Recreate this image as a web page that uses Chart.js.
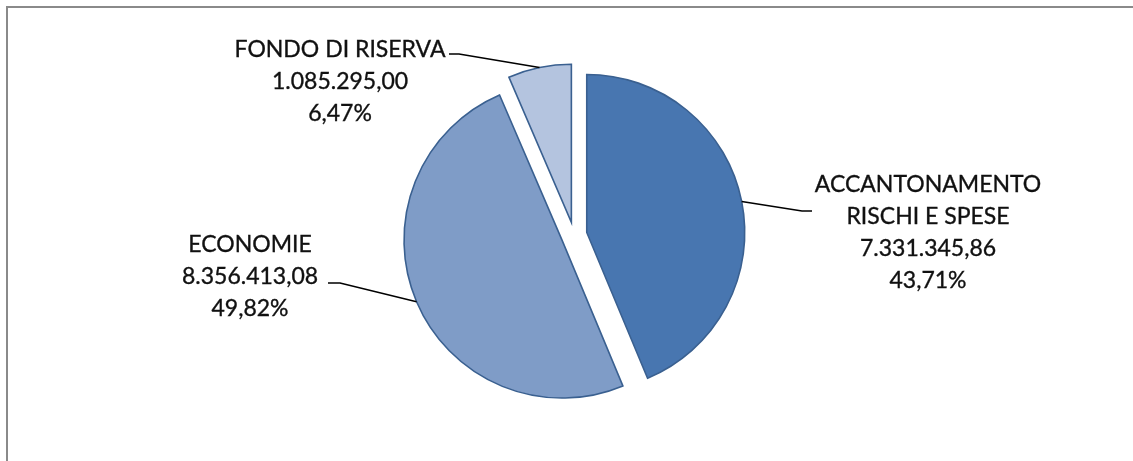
<!DOCTYPE html>
<html>
<head>
<meta charset="utf-8">
<script src="https://cdn.jsdelivr.net/npm/chart.js@4/dist/chart.umd.min.js"></script>
<style>
  html, body { margin:0; padding:0; background:#fff; overflow:hidden; }
  #frame { position:absolute; left:6px; top:6px; width:1127px; height:455px; border-left:2px solid #8a8a8a; border-top:2px solid #8a8a8a; box-sizing:border-box; }
  #wrap { position:absolute; left:0; top:0; width:1133px; height:461px; }
</style>
</head>
<body>
<div id="frame"></div>
<div id="wrap"><canvas id="pieChart"></canvas></div>
<script>
// data
const categories = [['ACCANTONAMENTO', 'RISCHI E SPESE'], ['ECONOMIE'], ['FONDO DI RISERVA']];
const values = [7331345.86, 8356413.08, 1085295.00];
const colors = ['#4876b0', '#7f9cc7', '#b4c4df'];

// label placement: text centre x, first baseline y, stub start/elbow
const labelPos = [
  { x: 928, y: 192, stub: [[812, 211], [802, 211]] },
  { x: 250, y: 252, stub: [[328, 283], [340, 283]] },
  { x: 340, y: 57,  stub: [[449, 54], [459, 54]] }
];
const EXPLODE = 13;
const FONT = '23px Lato';

function fmtIt(v) {
  const parts = v.toFixed(2).split('.');
  const int = parts[0].replace(/\B(?=(\d{3})+(?!\d))/g, '.');
  return int + ',' + parts[1];
}

const total = values.reduce((a, b) => a + b, 0);

const explodePlugin = {
  id: 'explode',
  beforeDatasetDraw(chart) {
    const ctx = chart.ctx;
    chart.getDatasetMeta(0).data.forEach(arc => {
      const mid = (arc.startAngle + arc.endAngle) / 2;
      ctx.save();
      ctx.translate(Math.cos(mid) * EXPLODE, Math.sin(mid) * EXPLODE);
      arc.draw(ctx);
      ctx.restore();
    });
    return false;
  },
  afterDatasetsDraw(chart) {
    const ctx = chart.ctx;
    chart.getDatasetMeta(0).data.forEach((arc, i) => {
      const mid = (arc.startAngle + arc.endAngle) / 2;
      const r = arc.outerRadius + EXPLODE;
      const ax = arc.x + Math.cos(mid) * r;
      const ay = arc.y + Math.sin(mid) * r;
      const p = labelPos[i];
      ctx.save();
      ctx.strokeStyle = '#000';
      ctx.lineWidth = 1.6;
      ctx.beginPath();
      ctx.moveTo(p.stub[0][0], p.stub[0][1]);
      ctx.lineTo(p.stub[1][0], p.stub[1][1]);
      ctx.lineTo(ax, ay);
      ctx.stroke();

      const lines = categories[i].concat([fmtIt(values[i]), (values[i] / total * 100).toFixed(2).replace('.', ',') + '%']);
      ctx.fillStyle = '#111';
      ctx.strokeStyle = '#111';
      ctx.lineWidth = 0.35;
      ctx.font = FONT;
      ctx.textAlign = 'center';
      ctx.textBaseline = 'alphabetic';
      lines.forEach((t, k) => {
        ctx.fillText(t, p.x, p.y + k * 32);
        ctx.strokeText(t, p.x, p.y + k * 32);
      });
      ctx.restore();
    });
  }
};

new Chart(document.getElementById('pieChart'), {
  type: 'pie',
  data: {
    labels: categories.map(c => c.join(' ')),
    datasets: [{
      data: values,
      backgroundColor: colors,
      borderColor: '#3a6090',
      borderWidth: 1.6,
      borderJoinStyle: 'miter',
      radius: 158
    }]
  },
  options: {
    responsive: true,
    maintainAspectRatio: false,
    animation: false,
    layout: { padding: { left: 15, right: 0, top: 9, bottom: 0 } },
    plugins: { legend: { display: false }, tooltip: { enabled: false } }
  },
  plugins: [explodePlugin]
});
</script>
</body>
</html>
